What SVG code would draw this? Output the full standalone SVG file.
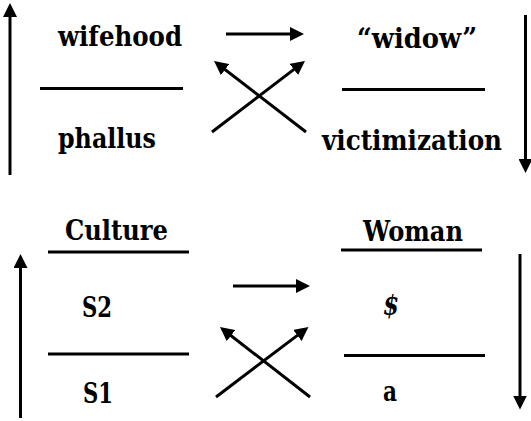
<svg xmlns="http://www.w3.org/2000/svg" width="531" height="421" viewBox="0 0 531 421">
<defs>
<style>
.t{font-family:"DejaVu Serif","Liberation Serif",serif;font-weight:bold;font-size:28px;fill:#000}
.bar{stroke:#000;stroke-width:3;fill:none}
.arr{stroke:#000;stroke-width:3;fill:none;marker-end:url(#ah)}
</style>
<marker id="ah" markerUnits="userSpaceOnUse" markerWidth="14" markerHeight="14" refX="8" refY="7" orient="auto">
<path d="M0,0 L14,7 L0,14 z" fill="#000"/>
</marker>
</defs>
<rect width="531" height="421" fill="#fff"/>
<g id="top-left">
<text class="t" x="58" y="46" textLength="124" lengthAdjust="spacingAndGlyphs">wifehood</text>
<line class="bar" x1="40" y1="88.5" x2="183" y2="88.5"/>
<text class="t" x="58" y="148" textLength="98" lengthAdjust="spacingAndGlyphs">phallus</text>
</g>
<g id="top-right">
<text class="t" x="357" y="48" textLength="120" lengthAdjust="spacingAndGlyphs">“widow”</text>
<line class="bar" x1="342" y1="89.5" x2="485" y2="89.5"/>
<text class="t" x="322" y="150" textLength="180" lengthAdjust="spacingAndGlyphs">victimization</text>
</g>
<g id="bottom-left">
<text class="t" x="65" y="240" textLength="103" lengthAdjust="spacingAndGlyphs">Culture</text>
<line class="bar" x1="48" y1="252" x2="189" y2="252"/>
<text class="t" x="82" y="317" textLength="30" lengthAdjust="spacingAndGlyphs">S2</text>
<line class="bar" x1="48" y1="354" x2="189" y2="354"/>
<text class="t" x="83" y="403" textLength="30" lengthAdjust="spacingAndGlyphs">S1</text>
</g>
<g id="bottom-right">
<text class="t" x="383" y="315" font-style="italic" font-size="31" textLength="16" lengthAdjust="spacingAndGlyphs">$</text>
<line class="bar" x1="341" y1="250" x2="482" y2="250"/>
<text class="t" x="363" y="241" textLength="100" lengthAdjust="spacingAndGlyphs">Woman</text>
<line class="bar" x1="344" y1="355.5" x2="485" y2="355.5"/>
<text class="t" x="383" y="401" textLength="14" lengthAdjust="spacingAndGlyphs">a</text>
</g>
<g id="connectors">
<line class="arr" x1="10" y1="175" x2="10" y2="9"/>
<line class="arr" x1="525.5" y1="15" x2="525.5" y2="167"/>
<line class="arr" x1="226" y1="34" x2="298" y2="34"/>
<line class="arr" x1="212" y1="132" x2="300.2" y2="64.6"/>
<line class="arr" x1="306" y1="132" x2="218.8" y2="64.7"/>
<line class="arr" x1="20.5" y1="418" x2="20.5" y2="260"/>
<line class="arr" x1="520" y1="254" x2="520" y2="403.5"/>
<line class="arr" x1="233" y1="286" x2="304" y2="286"/>
<line class="arr" x1="216" y1="397" x2="303.7" y2="330.6"/>
<line class="arr" x1="310" y1="397" x2="224.7" y2="330.7"/>
</g>
</svg>
